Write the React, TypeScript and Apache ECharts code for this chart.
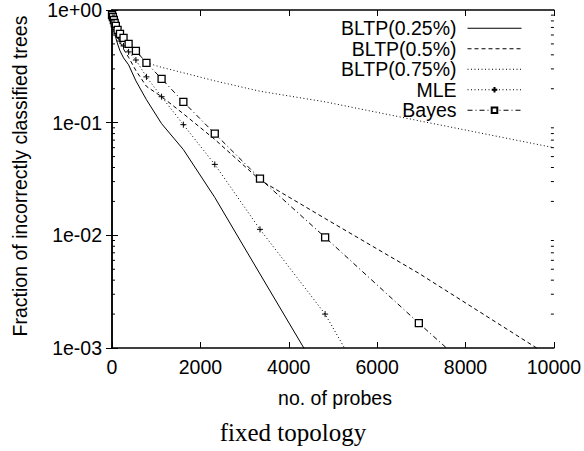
import React, { useEffect, useRef } from 'react';
import * as echarts from 'echarts';

// x positions of the measurements (no. of probes)
const probes = [0, 20, 42, 61, 87, 126, 181, 261, 376, 541, 779, 1122, 1615, 2326, 3349, 4823, 6944, 10000];

const bltp025: (number | null)[] = [0.885, 0.8, 0.707, 0.64, 0.565, 0.5, 0.434, 0.376, 0.326, 0.235, 0.16, 0.098, 0.0577, 0.0217, 0.00454, 0.00048, null, null];
const bltp05: (number | null)[] = [0.88, 0.81, 0.75, 0.7, 0.64, 0.58, 0.52, 0.45, 0.38, 0.29, 0.21, 0.17, 0.12, 0.071, 0.031, 0.0141, 0.0046, 0.0008];
const bltp075: (number | null)[] = [0.9, 0.87, 0.82, 0.78, 0.74, 0.69, 0.63, 0.57, 0.5, 0.43, 0.34, 0.31, 0.277, 0.235, 0.19, 0.153, 0.104, 0.06];
const mle: (number | null)[] = [0.9, 0.83, 0.77, 0.71, 0.65, 0.59, 0.53, 0.48, 0.425, 0.36, 0.255, 0.17, 0.096, 0.0426, 0.0113, 0.002, 0.00007, null];
const bayes: (number | null)[] = [0.9, 0.867, 0.815, 0.767, 0.722, 0.665, 0.613, 0.565, 0.5, 0.434, 0.34, 0.245, 0.153, 0.08, 0.0319, 0.0096, 0.00166, 0.00014];

const seriesNames = ['BLTP(0.25%)', 'BLTP(0.5%)', 'BLTP(0.75%)', 'MLE', 'Bayes'];
const namesWithoutMarkers = ['BLTP(0.25%)', 'BLTP(0.5%)', 'BLTP(0.75%)'];

const minorTicks = [
  0.002, 0.003, 0.004, 0.005, 0.006, 0.007, 0.008, 0.009,
  0.02, 0.03, 0.04, 0.05, 0.06, 0.07, 0.08, 0.09,
  0.2, 0.3, 0.4, 0.5, 0.6, 0.7, 0.8, 0.9,
];

const xTicks = { min: 0, max: 10000, interval: 2000 };

export default function App() {
  const ref = useRef<HTMLDivElement>(null);
  useEffect(() => {
    if (!ref.current) return;
    const chart = echarts.init(ref.current, null, { renderer: 'svg' });
    const font = "'Liberation Sans', Arial, Helvetica, sans-serif";
    const pts = (ys: (number | null)[]) => probes.map((x, i) => [x, ys[i] == null ? null : ys[i]]);
    const black = '#000';
    const axisLine = { show: true, lineStyle: { color: black, width: 1.5 } };

    const lineSeries = (name: string, ys: (number | null)[], type: any, symbol: any, symbolSize: number, itemStyle: any) => ({
      name,
      type: 'line',
      data: pts(ys),
      showSymbol: symbol !== 'none',
      showAllSymbol: true,
      symbol,
      symbolSize,
      connectNulls: false,
      clip: true,
      lineStyle: { color: black, width: 1, type },
      itemStyle,
      emphasis: { disabled: true },
      z: 3,
    });

    const option: any = {
      animation: false,
      grid: { left: 112, right: 27, top: 9, bottom: 103 },
      legend: {
        data: seriesNames.map((n) =>
          namesWithoutMarkers.includes(n)
            ? { name: n, itemStyle: { color: 'rgba(0,0,0,0)', borderColor: 'rgba(0,0,0,0)', borderWidth: 0 } }
            : { name: n }
        ),
        orient: 'vertical',
        align: 'right',
        right: 62,
        top: 18,
        padding: 0,
        itemGap: 0,
        itemWidth: 54,
        itemHeight: 7,
        selectedMode: false,
        lineStyle: { width: 1 },
        textStyle: { color: black, fontSize: 19.5, fontFamily: font, lineHeight: 20.5, padding: [0, 6, 0, 0] },
      },
      xAxis: [
        {
          type: 'value', ...xTicks,
          axisLine,
          axisTick: { inside: true, length: 6, lineStyle: { color: black, width: 1 } },
          axisLabel: { color: black, fontSize: 19.5, fontFamily: font, margin: 9, formatter: (v: number) => String(v) },
          splitLine: { show: false },
        },
        {
          type: 'value', position: 'top', ...xTicks,
          axisLine,
          axisTick: { inside: true, length: 6, lineStyle: { color: black, width: 1 } },
          axisLabel: { show: false },
          splitLine: { show: false },
        },
      ],
      yAxis: [
        {
          type: 'log', logBase: 10, min: 0.001, max: 1,
          axisLine,
          axisTick: { inside: true, length: 6, lineStyle: { color: black, width: 1 } },
          axisLabel: {
            color: black, fontSize: 19.5, fontFamily: font, margin: 10,
            formatter: (v: number) => {
              const e = Math.round(Math.log10(v));
              return '1e' + (e >= 0 ? '+' : '-') + String(Math.abs(e)).padStart(2, '0');
            },
          },
          splitLine: { show: false },
        },
        {
          type: 'log', logBase: 10, min: 0.001, max: 1, position: 'right',
          axisLine,
          axisTick: { inside: true, length: 6, lineStyle: { color: black, width: 1 } },
          axisLabel: { show: false },
          splitLine: { show: false },
        },
      ],
      series: [
        lineSeries('BLTP(0.25%)', bltp025, 'solid', 'none', 0, { color: black }),
        lineSeries('BLTP(0.5%)', bltp05, [4, 3], 'none', 0, { color: black }),
        lineSeries('BLTP(0.75%)', bltp075, [1, 2.5], 'none', 0, { color: black }),
        lineSeries('MLE', mle, [1, 2.5], 'path://M5,0L5,10M0,5L10,5', 6, { color: black, borderColor: black, borderWidth: 1 }),
        lineSeries('Bayes', bayes, [5, 3, 1, 3], 'rect', 7, { color: '#fff', borderColor: black, borderWidth: 1.3 }),
        {
          type: 'custom',
          name: 'minorTicks',
          coordinateSystem: 'cartesian2d',
          data: minorTicks.map((v) => [0, v]),
          encode: { x: 0, y: 1 },
          clip: false,
          silent: true,
          z: 4,
          renderItem: (_params: any, api: any) => {
            const v = api.value(1);
            const l = api.coord([0, v]);
            const r = api.coord([10000, v]);
            return {
              type: 'group',
              children: [
                { type: 'line', shape: { x1: l[0], y1: l[1], x2: l[0] + 3, y2: l[1] }, style: { stroke: black, lineWidth: 1 } },
                { type: 'line', shape: { x1: r[0] - 3, y1: r[1], x2: r[0], y2: r[1] }, style: { stroke: black, lineWidth: 1 } },
              ],
            };
          },
        },
      ],
      graphic: [
        {
          type: 'text', x: 20, y: 176, rotation: Math.PI / 2,
          style: { text: 'Fraction of incorrectly classified trees', fontSize: 19.5, fontFamily: font, fill: black, align: 'center', verticalAlign: 'middle' },
        },
        {
          type: 'text', x: 335, y: 398,
          style: { text: 'no. of probes', fontSize: 19.5, fontFamily: font, fill: black, align: 'center', verticalAlign: 'middle' },
        },
        {
          type: 'text', x: 293, y: 432,
          style: { text: 'fixed topology', fontSize: 25, fontFamily: "'Liberation Serif', 'Times New Roman', serif", fill: black, align: 'center', verticalAlign: 'middle' },
        },
      ],
    };
    chart.setOption(option);
    return () => chart.dispose();
  }, []);
  return <div ref={ref} style={{ position: 'fixed', left: 0, top: 0, width: 584, height: 451, background: '#fff' }} />;
}
